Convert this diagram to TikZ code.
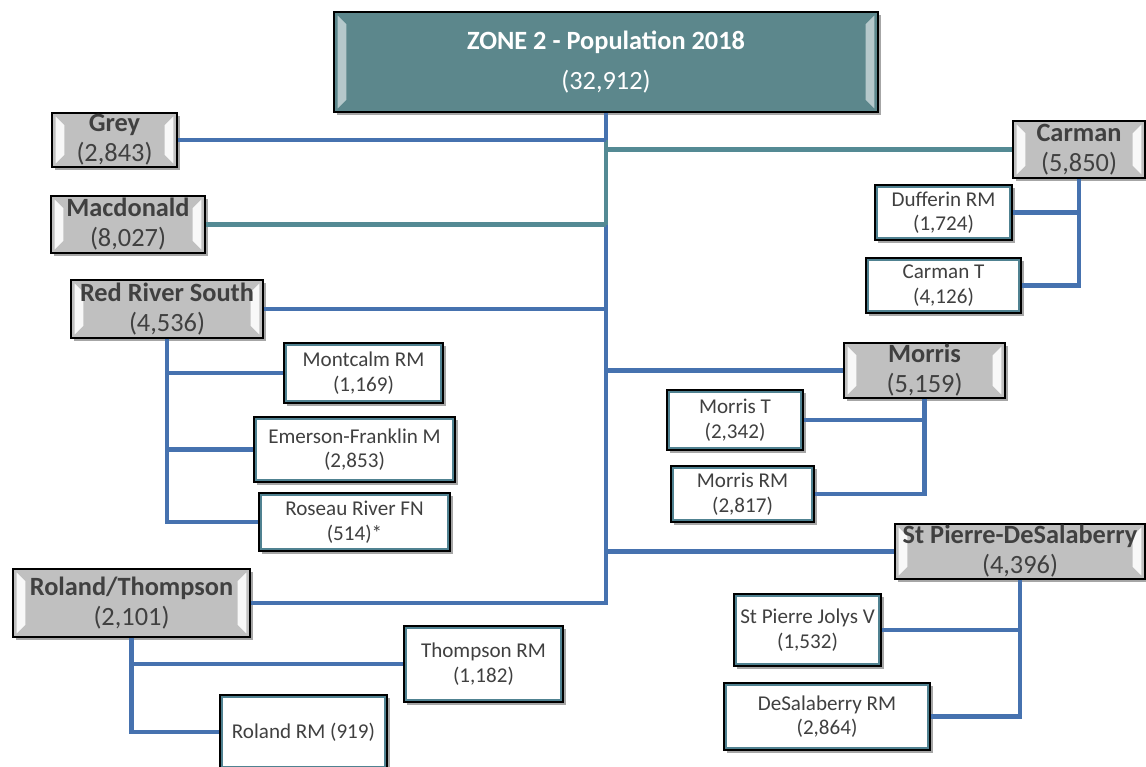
\documentclass[tikz,border=0pt]{standalone}
\usepackage{fontspec}
\setmainfont{Carlito}
\usetikzlibrary{shadows}
\definecolor{zonefill}{RGB}{92,135,140}
\definecolor{headfill}{RGB}{192,192,192}
\definecolor{linkblue}{RGB}{70,114,175}
\definecolor{linkteal}{RGB}{84,138,148}
\definecolor{edgeteal}{RGB}{80,130,145}
\definecolor{txtgray}{RGB}{64,64,64}
\begin{document}
\begin{tikzpicture}[x=0.02cm,y=-0.02cm,
  bevel/.style={path picture={
    \fill[white,opacity=#1] ([shift={(2pt,2pt)}]path picture bounding box.south west) -- ([shift={(2pt,-2pt)}]path picture bounding box.north west) -- ([shift={(7pt,-7pt)}]path picture bounding box.north west) -- ([shift={(7pt,7pt)}]path picture bounding box.south west) -- cycle;
    \fill[white,opacity=#1] ([shift={(-2pt,2pt)}]path picture bounding box.south east) -- ([shift={(-2pt,-2pt)}]path picture bounding box.north east) -- ([shift={(-7pt,-7pt)}]path picture bounding box.north east) -- ([shift={(-7pt,7pt)}]path picture bounding box.south east) -- cycle;}},
  shade/.style={drop shadow={shadow xshift=1.5pt,shadow yshift=-1.5pt,opacity=0.35,fill=black}},
  zone/.style={draw=black,line width=1pt,fill=zonefill,text=white,align=center,inner sep=0pt,
    font=\fontsize{15}{23}\selectfont,shade,bevel=0.55},
  head/.style={draw=black,line width=1pt,fill=headfill,text=txtgray,align=center,inner sep=0pt,
    font=\fontsize{15}{17}\selectfont,shade,bevel=0.9},
  leaf/.style={draw=black,line width=1.2pt,fill=white,text=txtgray,align=center,inner sep=0pt,
    font=\fontsize{12}{14}\selectfont,shade,
    path picture={\draw[edgeteal,line width=3.5pt] (path picture bounding box.south west) rectangle (path picture bounding box.north east);}},
  link/.style={draw=linkblue,line width=2.8pt},
  tlink/.style={draw=linkteal,line width=2.8pt}]
  \useasboundingbox (0,0) rectangle (1146,767);

  \node[zone,minimum width=10.88cm,minimum height=2cm] (top) at (606,62) {\textbf{ZONE 2 - Population 2018}\\(32,912)};

  \node[head,minimum width=2.5cm,minimum height=1.08cm] (grey) at (114.5,140) {\textbf{Grey}\\(2,843)};
  \node[head,minimum width=3.08cm,minimum height=1.14cm] (macd) at (128,224.5) {\textbf{Macdonald}\\(8,027)};
  \node[head,minimum width=3.84cm,minimum height=1.16cm] (rrs) at (167,309) {\textbf{Red River South}\\(4,536)};
  \node[head,minimum width=4.74cm,minimum height=1.36cm] (rt) at (131.5,603) {\textbf{Roland/Thompson}\\(2,101)};
  \node[head,minimum width=2.64cm,minimum height=1.14cm] (carman) at (1079,149.5) {\textbf{Carman}\\(5,850)};
  \node[head,minimum width=3.22cm,minimum height=1.1cm] (morris) at (924.5,370.5) {\textbf{Morris}\\(5,159)};
  \node[head,minimum width=5cm,minimum height=1.1cm] (stpierre) at (1020,551.5) {\textbf{St Pierre-DeSalaberry}\\(4,396)};

  \node[leaf,minimum width=2.74cm,minimum height=1.1cm] (dufferin) at (943.5,212.5) {Dufferin RM\\(1,724)};
  \node[leaf,minimum width=3.1cm,minimum height=1.1cm] (carmant) at (943.5,285.5) {Carman T\\(4,126)};
  \node[leaf,minimum width=2.72cm,minimum height=1.2cm] (morrist) at (735,420) {Morris T\\(2,342)};
  \node[leaf,minimum width=2.86cm,minimum height=1.12cm] (morrisrm) at (742.5,494) {Morris RM\\(2,817)};
  \node[leaf,minimum width=2.94cm,minimum height=1.44cm] (stpjv) at (807.5,630) {St Pierre Jolys V\\(1,532)};
  \node[leaf,minimum width=4.12cm,minimum height=1.34cm] (desal) at (827,716.5) {DeSalaberry RM\\(2,864)};
  \node[leaf,minimum width=3.18cm,minimum height=1.2cm] (montcalm) at (363.5,373) {Montcalm RM\\(1,169)};
  \node[leaf,minimum width=4.02cm,minimum height=1.3cm] (emerson) at (354.5,449.5) {Emerson-Franklin M\\(2,853)};
  \node[leaf,minimum width=3.82cm,minimum height=1.16cm] (roseau) at (354.5,522) {Roseau River FN\\(514)*};
  \node[leaf,minimum width=3.18cm,minimum height=1.52cm] (thompsonrm) at (483.5,664) {Thompson RM\\(1,182)};
  \node[leaf,minimum width=3.34cm,minimum height=1.48cm] (rolandrm) at (303.5,732) {Roland RM (919)};

  \draw[link] (top.south) |- (rt.east);
  \draw[tlink] (grey.east -| top.south) -- (macd.east -| top.south);
  \draw[link] (grey.east) -- (grey.east -| top.south);
  \draw[tlink] (macd.east) -- (macd.east -| top.south);
  \draw[tlink] (carman.west -| top.south) -- (carman.west);
  \draw[link] (rrs.east) -- (rrs.east -| top.south);
  \draw[link] (morris.west -| top.south) -- (morris.west);
  \draw[link] (stpierre.west -| top.south) -- (stpierre.west);

  \draw[link] (carman.south) |- (dufferin.east);
  \draw[link] (carman.south) |- (carmant.east);
  \draw[link] (morris.south) |- (morrist.east);
  \draw[link] (morris.south) |- (morrisrm.east);
  \draw[link] (stpierre.south) |- (stpjv.east);
  \draw[link] (stpierre.south) |- (desal.east);
  \draw[link] (rrs.south) |- (montcalm.west);
  \draw[link] (rrs.south) |- (emerson.west);
  \draw[link] (rrs.south) |- (roseau.west);
  \draw[link] (rt.south) |- (thompsonrm.west);
  \draw[link] (rt.south) |- (rolandrm.west);
\end{tikzpicture}
\end{document}
